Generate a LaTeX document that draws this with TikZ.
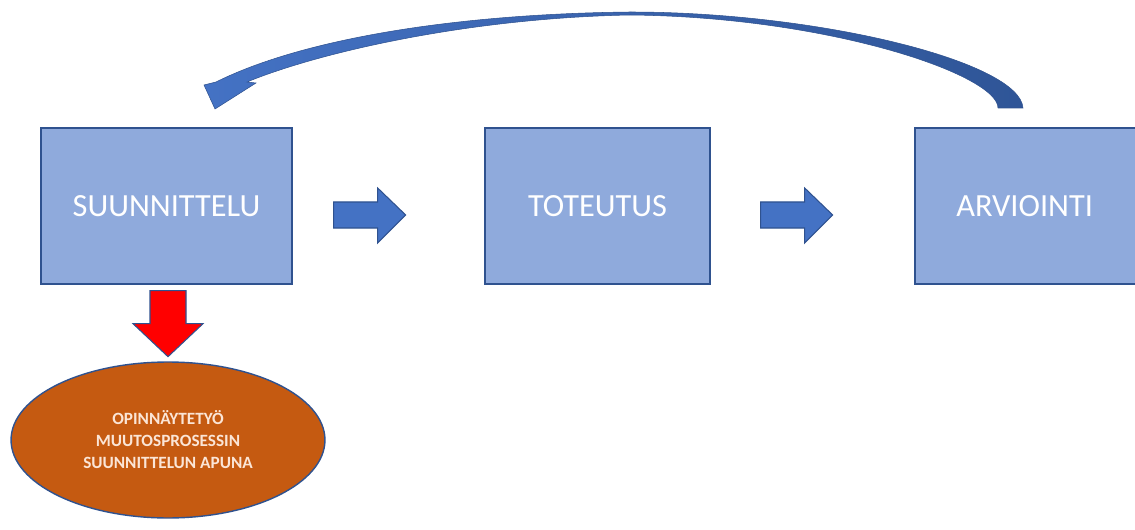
\documentclass[tikz,border=0pt]{standalone}
\usepackage{fontspec}
\setmainfont{Carlito}
\usetikzlibrary{shapes.geometric, arrows, positioning, calc}
\definecolor{boxfill}{HTML}{8FAADC}
\definecolor{boxline}{HTML}{2F528F}
\definecolor{arrowblue}{HTML}{4472C4}
\definecolor{arrowdark}{HTML}{2F5597}
\definecolor{ovalfill}{HTML}{C55A11}
\definecolor{ovaltext}{HTML}{FBE5D6}

\begin{document}
\begin{tikzpicture}[
    x=0.02cm, y=-0.02cm,
    phase/.style={rectangle, draw=boxline, line width=0.8pt, fill=boxfill, minimum height=3.12cm, inner sep=0pt, text=white, font=\fontsize{18.4}{22}\selectfont},
    oval/.style={ellipse, draw=boxline, line width=0.8pt, fill=ovalfill, minimum width=6.28cm, minimum height=3.12cm, inner sep=0pt, text=ovaltext, align=center, font=\bfseries\fontsize{9.8}{12.5}\selectfont},
    fatarrow/.style={fill=arrowblue, draw=boxline, line width=0.6pt},
    redarrow/.style={fill=red, draw=boxline, line width=0.6pt},
    looparrow/.style={left color=arrowblue, right color=arrowdark, draw=boxline, line width=0.3pt}
]
    \useasboundingbox (0,0) rectangle (1135,530);

    % Nodes
    \node (plan) [phase, minimum width=5.02cm] at (166.5,206) {SUUNNITTELU};
    \node (impl) [phase, minimum width=4.5cm] at (597.5,206) {TOTEUTUS};
    \node (eval) [phase, minimum width=4.7cm] at (1032.5,206) {\hspace*{-9pt}ARVIOINTI};
    \node (thesis) [oval] at (168,440) {OPINNÄYTETYÖ\\MUUTOSPROSESSIN\\SUUNNITTELUN APUNA};

    % Arrows
    \coordinate (a1) at ($(plan.east)+(41,9)$);
    \coordinate (a2) at ($(impl.east)+(50,9)$);
    \foreach \c in {a1,a2}
        \draw [fatarrow, shift={(\c)}] (0,-13) -- (44,-13) -- (44,-27) -- (72,0) -- (44,28) -- (44,13) -- (0,13) -- cycle;

    \coordinate (r) at ($(plan.south)+(1.5,6)$);
    \draw [redarrow, shift={(r)}] (-18,0) -- (18,0) -- (18,33) -- (35,33) -- (0,66) -- (-35,33) -- (-18,33) -- cycle;

    % Feedback loop
    \path [looparrow] (216,82) .. controls (300,40) and (450,14) .. (630,12)
        .. controls (820,12) and (1020,62) .. (1023,108)
        -- (998,108) .. controls (998,75) and (830,17) .. (630,15)
        .. controls (470,18) and (320,52) .. (247,82)
        -- (256,83) -- (215,109) -- (204,85) -- cycle;

\end{tikzpicture}
\end{document}
